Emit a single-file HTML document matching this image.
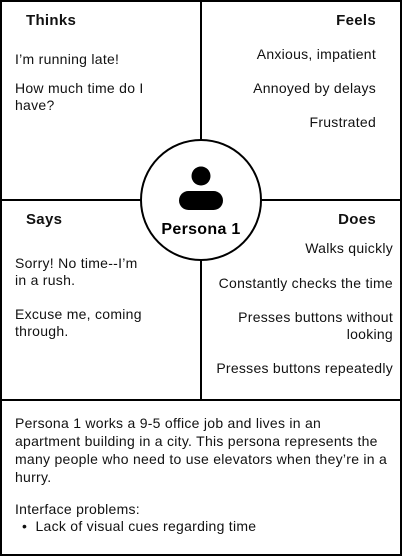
<!DOCTYPE html>
<html><head><style>
body{margin:0;width:402px;height:556px;background:#fff;position:relative;font-family:"Liberation Sans",sans-serif;color:#111;overflow:hidden}
.t{position:absolute;font-size:14px;letter-spacing:0.27px;line-height:17px;white-space:nowrap}
.h{position:absolute;font-size:15px;letter-spacing:0.3px;font-weight:bold;line-height:17px}
.r{text-align:right;right:26px}
.d{text-align:right;right:9px}
.l{position:absolute;background:#000}
</style></head><body>
<div style="position:absolute;left:0;top:0;width:398px;height:552px;border:2px solid #000"></div>
<div class="l" style="left:200px;top:0;width:2px;height:401px"></div>
<div class="l" style="left:0;top:199px;width:402px;height:2px"></div>
<div class="l" style="left:0;top:399px;width:402px;height:2px"></div>
<svg style="position:absolute;left:0;top:0" width="402" height="556">
<circle cx="201" cy="200" r="60" fill="#fff" stroke="#000" stroke-width="2"/>
<circle cx="201" cy="176" r="9.5" fill="#000"/>
<rect x="179" y="191" width="44" height="19" rx="9.5" fill="#000"/>
<text x="201" y="234" text-anchor="middle" font-family="Liberation Sans" font-weight="bold" font-size="16" letter-spacing="0.3">Persona 1</text>
</svg>
<div class="h" style="left:26px;top:12px">Thinks</div>
<div class="t" style="left:15px;top:51px">I’m running late!</div>
<div class="t" style="left:15px;top:80px">How much time do I<br>have?</div>
<div class="h r" style="top:12px">Feels</div>
<div class="t r" style="top:46px">Anxious, impatient</div>
<div class="t r" style="top:80px">Annoyed by delays</div>
<div class="t r" style="top:114px">Frustrated</div>
<div class="h" style="left:26px;top:211px">Says</div>
<div class="t" style="left:15px;top:255px">Sorry! No time--I’m<br>in a rush.</div>
<div class="t" style="left:15px;top:306px">Excuse me, coming<br>through.</div>
<div class="h r" style="top:211px">Does</div>
<div class="t d" style="top:240px">Walks quickly</div>
<div class="t d" style="top:275px">Constantly checks the time</div>
<div class="t d" style="top:309px">Presses buttons without<br>looking</div>
<div class="t d" style="top:360px">Presses buttons repeatedly</div>
<div class="t" style="left:15px;top:414px;line-height:18px">Persona 1 works a 9-5 office job and lives in an<br>apartment building in a city. This persona represents the<br>many people who need to use elevators when they’re in a<br>hurry.</div>
<div class="t" style="left:15px;top:501px">Interface problems:</div>
<div class="t" style="left:22px;top:518px">•&nbsp;&nbsp;Lack of visual cues regarding time</div>
</body></html>
